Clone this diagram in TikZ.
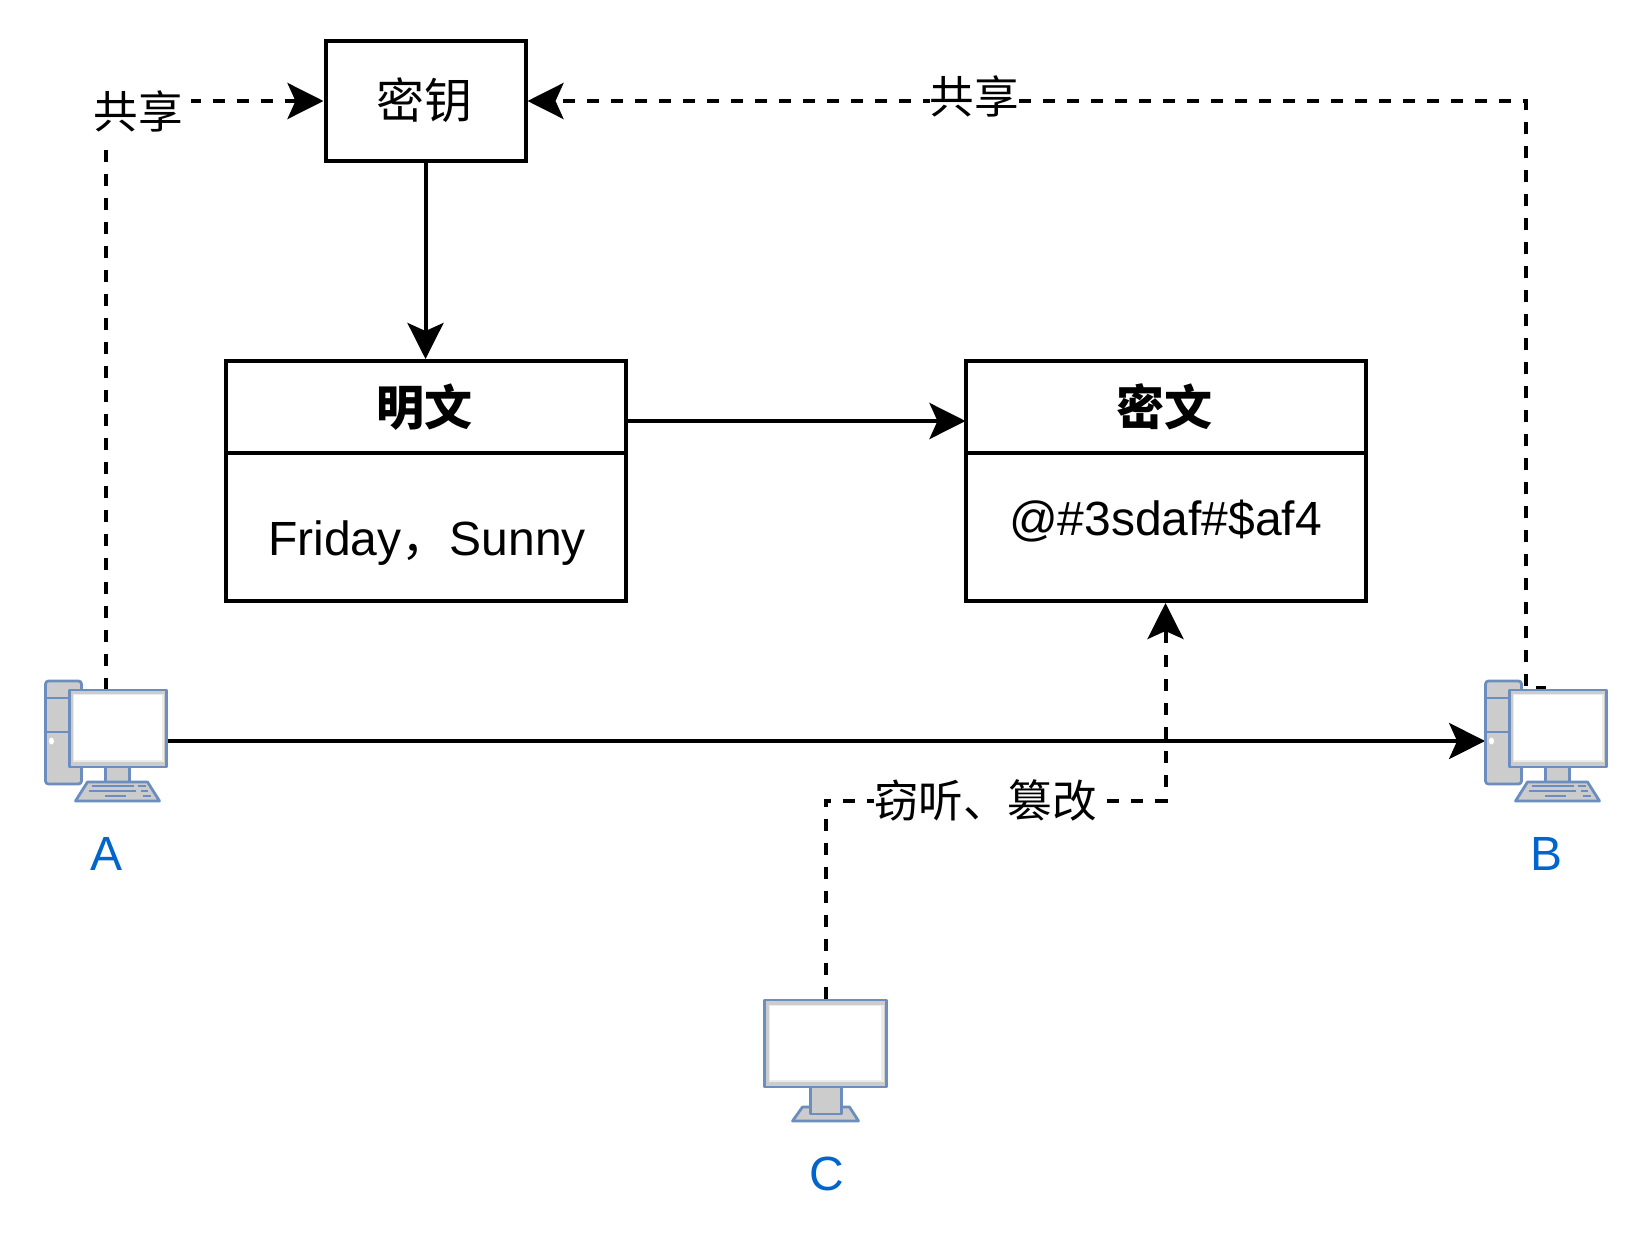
\documentclass[tikz,border=0pt]{standalone}
\usepackage{fontspec}
\setmainfont{Liberation Sans}
\newfontfamily\cjk{Noto Sans CJK SC}
\usetikzlibrary{arrows.meta}
\definecolor{pcblue}{HTML}{6C8EBF}
\definecolor{pcgrey}{HTML}{CCCCCC}
\definecolor{labelblue}{HTML}{0066CC}
\tikzset{
  x=0.5pt,y=-0.5pt,
  boxframe/.style={draw=black,line width=2pt,fill=white,rectangle,inner sep=0pt},
  conn/.style={draw=black,line width=2pt,-{Stealth[length=18pt,width=18pt,inset=4pt]}},
  dashconn/.style={conn,dash pattern=on 6pt off 6pt},
  edgelabel/.style={fill=white,inner sep=0pt,font=\cjk\fontsize{22.3pt}{26pt}\selectfont},
  anchorbox/.style={rectangle,inner sep=0pt,minimum width=60.5pt,minimum height=60pt},
  pclabel/.style={text=labelblue,font=\fontsize{24pt}{28pt}\selectfont},
  pcpart/.style={draw=pcblue,line width=1.4pt,fill=pcgrey,line join=round},
  pcline/.style={draw=pcblue,line width=1.2pt},
  pics/pcmonitor/.style={code={
    \path[pcpart] (70,691) rectangle (167,768);
    \fill[white!92!black] (73,695) rectangle (164,763);
    \fill[white] (74,696) rectangle (162,761);
    \path[pcpart] (106,768) rectangle (130,783);
    \path[pcpart] (88,783) -- (148,783) -- (160,802) -- (76,802) -- cycle;
    \foreach \xa/\xb/\yy in {92/134/787,138/146/787,89/136/792,141/148/792,105/126/797,143/151/797}
      \draw[pcline] (\xa,\yy) -- (\xb,\yy);
  }},
  pics/pctower/.style={code={
    \path[pcpart,rounded corners=1.5pt] (46,682) rectangle (82,785);
    \draw[pcline] (46,699) -- (70,699);
    \draw[pcline] (46,733) -- (70,733);
    \fill[white] (52,742) ellipse (2.5 and 3.5);
  }},
  pics/pcsolo/.style={code={
    \path[pcpart] (793,1122) -- (803,1108) -- (850,1108) -- (859,1122) -- cycle;
    \path[pcpart] (811,1088) rectangle (842,1115);
    \path[pcpart] (765,1001) rectangle (887,1088);
    \fill[white!92!black] (769,1006) rectangle (884,1083);
    \fill[white] (770,1007) rectangle (881,1081);
  }},
}
\begin{document}
\begin{tikzpicture}
\useasboundingbox (0.5,1) rectangle (1648.5,1249);
\fill[white] (0.5,1) rectangle (1648.5,1249);

% computer anchors
\node[anchorbox] (A) at (106.5,742) {};
\node[anchorbox] (B) at (1546.5,742) {};
\node[anchorbox,minimum height=60.5pt] (C) at (826,1061) {};
\coordinate (astart) at (106,691);
\coordinate (bstart) at (1546,689);
\coordinate (bbend) at (1526,689);
\coordinate (ccorner) at (826,802);

% boxes
\node[boxframe,minimum width=100pt,minimum height=60pt] (key) at (426,102) {};
\node[font=\cjk\fontsize{24pt}{28pt}\selectfont] (keytext) at (424.5,101) {密钥};
\node[boxframe,minimum width=200pt,minimum height=120pt] (plain) at (426,482) {};
\node[boxframe,minimum width=200pt,minimum height=120pt] (cipher) at (1166,482) {};
\coordinate (plainhl) at (226,454);
\coordinate (plainhr) at (626,454);
\coordinate (cipherhl) at (966,454);
\coordinate (cipherhr) at (1366,454);
\draw[line width=2pt] (plainhl) -- (plainhr);
\draw[line width=2pt] (cipherhl) -- (cipherhr);
\node[font=\cjk\bfseries\fontsize{24pt}{28pt}\selectfont] (plainhead) at (424.5,408) {明文};
\node[font=\cjk\bfseries\fontsize{24pt}{28pt}\selectfont] (cipherhead) at (1164.5,408) {密文};
\node[font=\fontsize{24pt}{28pt}\selectfont] (plainbody) at (427.5,544) {Friday{\cjk，}Sunny};
\node[font=\fontsize{24pt}{28pt}\selectfont] (cipherbody) at (1166,522) {@\#3sdaf\#\$af4};

% connectors
\coordinate (plainout) at (626,422);
\coordinate (cipherin) at (966,422);
\draw[conn] (key.south) -- (plain.north);
\draw[conn] (plainout) -- (cipherin);
\draw[conn] (A.east) -- (B.west);
\draw[dashconn] (astart) |- (key.west);
\draw[dashconn,dash phase=1pt] (bstart) -- (bbend) |- (key.east);
\draw[dashconn] (C.north) -- (ccorner) -| (cipher.south);

% edge labels
\node[edgelabel,anchor=base,inner xsep=4pt,text height=22pt,text depth=10.5pt] (sharel) at (139,129) {共享};
\node[edgelabel] (sharer) at (975,97) {共享};
\node[edgelabel] (spy) at (986,801) {窃听、篡改\hspace{5pt}};

% computers
\pic at (0,0) {pctower};
\pic at (0,0) {pcmonitor};
\pic at (1440,0) {pctower};
\pic at (1440,0) {pcmonitor};
\pic at (0,0) {pcsolo};

\node[pclabel] (Alabel) at (107,855) {A};
\node[pclabel] (Blabel) at (1547,855) {B};
\node[pclabel] (Clabel) at (827,1175) {C};
\end{tikzpicture}
\end{document}
